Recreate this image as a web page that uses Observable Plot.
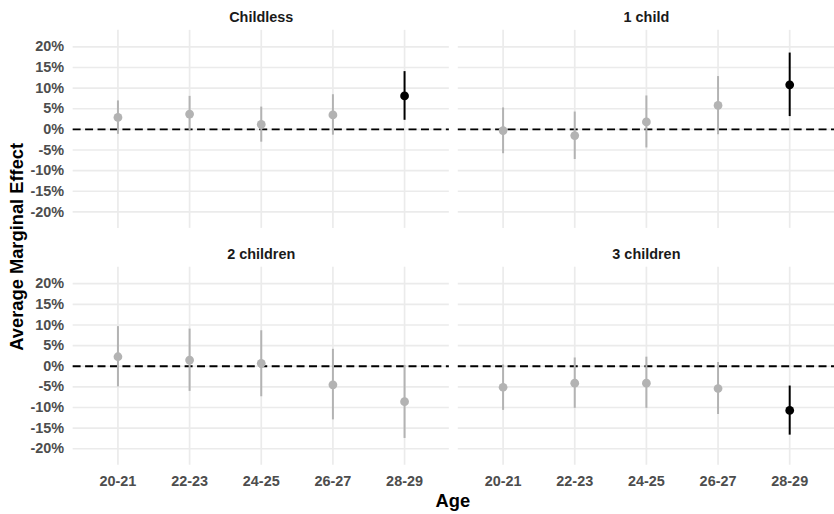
<!DOCTYPE html>
<html>
<head>
<meta charset="utf-8">
<script src="https://cdn.jsdelivr.net/npm/d3@7"></script>
<script src="https://cdn.jsdelivr.net/npm/@observablehq/plot@0.6"></script>
<style>
  html, body { margin: 0; padding: 0; background: #fff; }
  #wrap { width: 834px; height: 514px; overflow: hidden; position: relative; }
</style>
</head>
<body>
<div id="wrap"></div>
<script>
const panels = ["Childless", "1 child", "2 children", "3 children"];
const panelCol = [0, 1, 0, 1];
const panelRow = [0, 0, 1, 1];
const ages = ["20-21", "22-23", "24-25", "26-27", "28-29"];
const yTicks = [-20, -15, -10, -5, 0, 5, 10, 15, 20];

// Average marginal effects (%) and 95% CI bounds, per panel
const estChildless = [2.9, 3.7, 1.2, 3.5, 8.1];
const lowChildless = [-1.2, -0.4, -3.1, -1.4, 2.2];
const highChildless = [6.9, 8.0, 5.4, 8.4, 14.0];

const estOne = [-0.3, -1.5, 1.8, 5.8, 10.8];
const lowOne = [-5.9, -7.3, -4.5, -1.3, 3.1];
const highOne = [5.2, 4.2, 8.1, 12.8, 18.5];

const estTwo = [2.3, 1.5, 0.7, -4.5, -8.6];
const lowTwo = [-5.0, -6.1, -7.4, -13.0, -17.5];
const highTwo = [9.6, 9.0, 8.6, 4.1, 0.2];

const estThree = [-5.1, -4.1, -4.1, -5.4, -10.7];
const lowThree = [-10.7, -10.2, -10.2, -11.7, -16.7];
const highThree = [0.3, 2.0, 2.2, 0.9, -4.8];

const ests = [estChildless, estOne, estTwo, estThree];
const lows = [lowChildless, lowOne, lowTwo, lowThree];
const highs = [highChildless, highOne, highTwo, highThree];

const rows = [];
panels.forEach((p, i) => {
  ages.forEach((a, j) => {
    const lo = lows[i][j], hi = highs[i][j];
    rows.push({
      panel: p, col: panelCol[i], row: panelRow[i], age: a,
      est: ests[i][j], low: lo, high: hi,
      color: (lo > 0 || hi < 0) ? "#000000" : "#b3b3b3"
    });
  });
});
const panelData = panels.map((p, i) => ({name: p, col: panelCol[i], row: panelRow[i]}));

const font = "'Liberation Sans', Arial, Helvetica, sans-serif";

const chart = Plot.plot({
  width: 838,
  height: 514,
  marginLeft: 72,
  marginRight: 0,
  marginTop: 29,
  marginBottom: 46,
  style: {fontFamily: font, background: "white", overflow: "visible"},
  fx: {axis: null, domain: [0, 1], padding: 0.024},
  fy: {axis: null, domain: [0, 1], padding: 0.163},
  x: {type: "point", domain: ages, padding: 0.6, label: null},
  y: {domain: [-24, 24], label: null},
  color: {type: "identity"},
  marks: [
    Plot.gridY(yTicks, {stroke: "#ebebeb", strokeOpacity: 1, strokeWidth: 1.7}),
    Plot.gridX(ages, {stroke: "#ebebeb", strokeOpacity: 1, strokeWidth: 1.7}),
    Plot.axisY(yTicks, {
      tickSize: 0, tickPadding: 9, tickFormat: d => d + "%",
      fontSize: 14.5, fontWeight: "bold", color: "#4d4d4d", label: null
    }),
    Plot.axisX(ages, {
      tickSize: 0, tickPadding: 11,
      fontSize: 14.5, fontWeight: "bold", color: "#4d4d4d", label: null
    }),
    Plot.ruleY([0], {stroke: "black", strokeWidth: 2, strokeDasharray: "8,4.5"}),
    Plot.ruleX(rows, {x: "age", y1: "low", y2: "high", fx: "col", fy: "row", stroke: "color", strokeWidth: 2}),
    Plot.dot(rows, {x: "age", y: "est", fx: "col", fy: "row", fill: "color", r: 4.4, stroke: null}),
    Plot.text(panelData, {
      fx: "col", fy: "row", text: "name", frameAnchor: "top", dy: -19,
      fontSize: 14.5, fontWeight: "bold", fill: "#1a1a1a"
    })
  ]
});

const svg = d3.select(chart);
svg.append("text")
  .attr("transform", "translate(17,248) rotate(-90)")
  .attr("text-anchor", "middle")
  .attr("dominant-baseline", "central")
  .attr("font-family", font)
  .attr("font-size", 18.4)
  .attr("font-weight", "bold")
  .attr("fill", "#000")
  .text("Average Marginal Effect");
svg.append("text")
  .attr("x", 455)
  .attr("y", 503)
  .attr("text-anchor", "middle")
  .attr("dominant-baseline", "central")
  .attr("font-family", font)
  .attr("font-size", 18.4)
  .attr("font-weight", "bold")
  .attr("fill", "#000")
  .text("Age");

document.getElementById("wrap").appendChild(chart);
</script>
</body>
</html>
